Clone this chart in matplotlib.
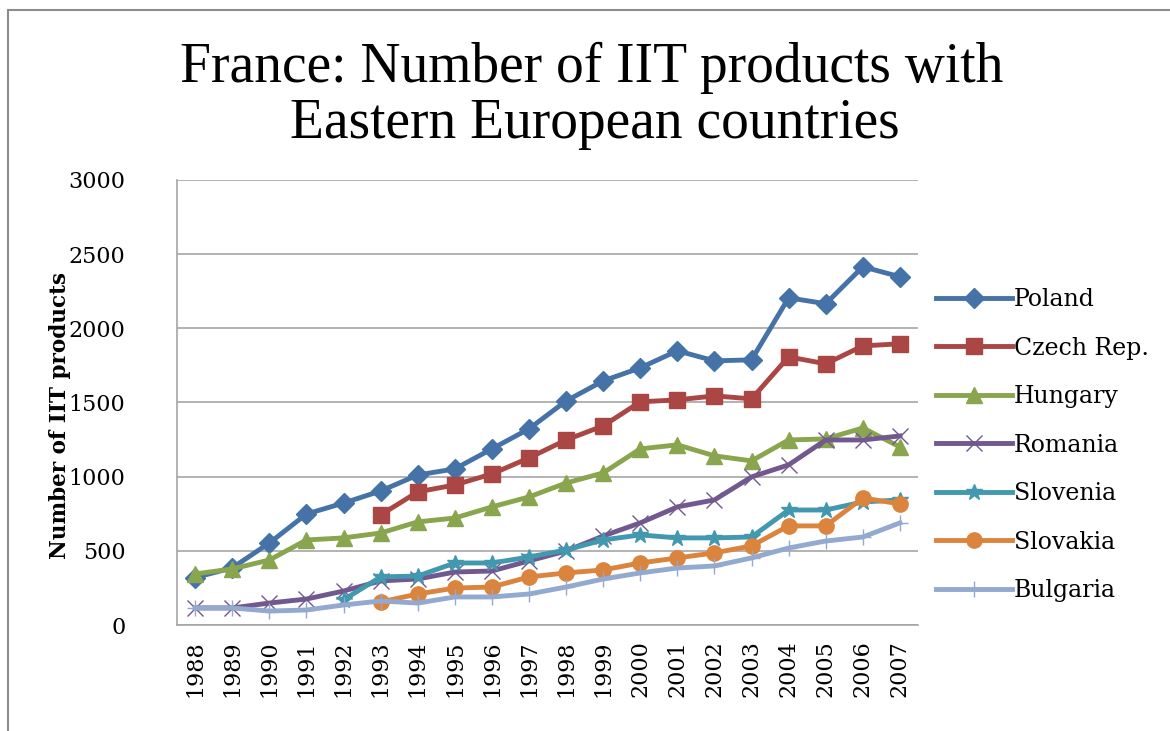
import numpy as np
import matplotlib
matplotlib.use("Agg")
import matplotlib.pyplot as plt
from matplotlib.patches import Rectangle

plt.rcParams['font.family'] = ['DejaVu Serif', 'Liberation Serif']

years = list(range(1988, 2008))

# valores (None = sin dato)
poland = [320, 385, 553, 748, 822, 903, 1011, 1052, 1187, 1322,
          1510, 1645, 1733, 1848, 1780, 1787, 2205, 2165, 2414, 2347]
czech = [None, None, None, None, None, 742, 897, 944, 1018, 1126,
         1247, 1342, 1504, 1517, 1544, 1524, 1807, 1760, 1881, 1895]
hungary = [344, 378, 438, 573, 587, 620, 695, 721, 796, 863,
           957, 1025, 1187, 1214, 1140, 1106, 1247, 1254, 1328, 1200]
romania = [115, 115, 148, 175, 229, 297, 310, 357, 364, 432,
           499, 600, 688, 796, 843, 998, 1079, 1247, 1247, 1274]
slovenia = [None, None, None, None, 170, 324, 330, 418, 418, 458,
            506, 573, 607, 587, 587, 593, 775, 775, 829, 843]
slovakia = [None, None, None, None, None, 155, 209, 249, 256, 324,
            351, 371, 418, 452, 486, 533, 668, 668, 856, 816]
bulgaria = [115, 115, 94, 101, 135, 162, 148, 189, 189, 209,
            256, 310, 351, 384, 398, 452, 519, 566, 593, 688]

series = [
    ("Poland", poland, "#4572A7", "D", 10),
    ("Czech Rep.", czech, "#AA4643", "s", 11),
    ("Hungary", hungary, "#89A54E", "^", 11),
    ("Romania", romania, "#71588F", "x", 11),
    ("Slovenia", slovenia, "#4198AF", "*", 12),
    ("Slovakia", slovakia, "#DB843D", "o", 11),
    ("Bulgaria", bulgaria, "#93A9CF", "+", 12),
]

fig = plt.figure(figsize=(11.7, 7.31), dpi=100)
fig.patches.append(Rectangle((0.007, -0.01), 1.1, 0.997, transform=fig.transFigure,
                             fill=False, edgecolor="#8c8c8c", linewidth=1.5))
ax = fig.add_axes([0.151, 0.145, 0.634, 0.609])

x = np.arange(len(years))
for name, vals, color, mk, ms in series:
    v = np.array([np.nan if a is None else a for a in vals], dtype=float)
    if mk in ("x", "*", "+"):
        ax.plot(x, v, color=color, lw=3.5, marker=mk, ms=ms, mew=1.0,
                mec=color, label=name)
    else:
        ax.plot(x, v, color=color, lw=3.5, marker=mk, ms=ms, label=name)

ax.set_ylim(0, 3000)
ax.set_yticks(range(0, 3001, 500))
ax.set_xlim(-0.5, len(years) - 0.5)
ax.set_xticks(x)
ax.set_xticklabels([str(y) for y in years], rotation=90, fontsize=16)
ax.tick_params(axis="y", labelsize=16, length=0, pad=37)
ax.tick_params(axis="x", length=0, pad=11)
ax.yaxis.grid(True, color="#a6a6a6", lw=1.2)
ax.set_axisbelow(True)
for s in ["top", "right"]:
    ax.spines[s].set_visible(False)
for s in ["left", "bottom"]:
    ax.spines[s].set_color("#a6a6a6")
    ax.spines[s].set_linewidth(1.2)

ax.set_ylabel("Number of IIT products", fontsize=15.5, fontweight="bold")
ax.yaxis.set_label_coords(-0.143, 0.47)

fig.text(0.506, 0.888, "France: Number of IIT products with", ha="center",
         va="baseline", fontsize=40, family="Liberation Serif")
fig.text(0.508, 0.811, "Eastern European countries", ha="center",
         va="baseline", fontsize=40, family="Liberation Serif")

ax.legend(loc="center left", bbox_to_anchor=(0.995, 0.404), frameon=False,
          fontsize=17, handlelength=3.2, handletextpad=0.1, labelspacing=1.08)

fig.savefig("out.png", dpi=100)
